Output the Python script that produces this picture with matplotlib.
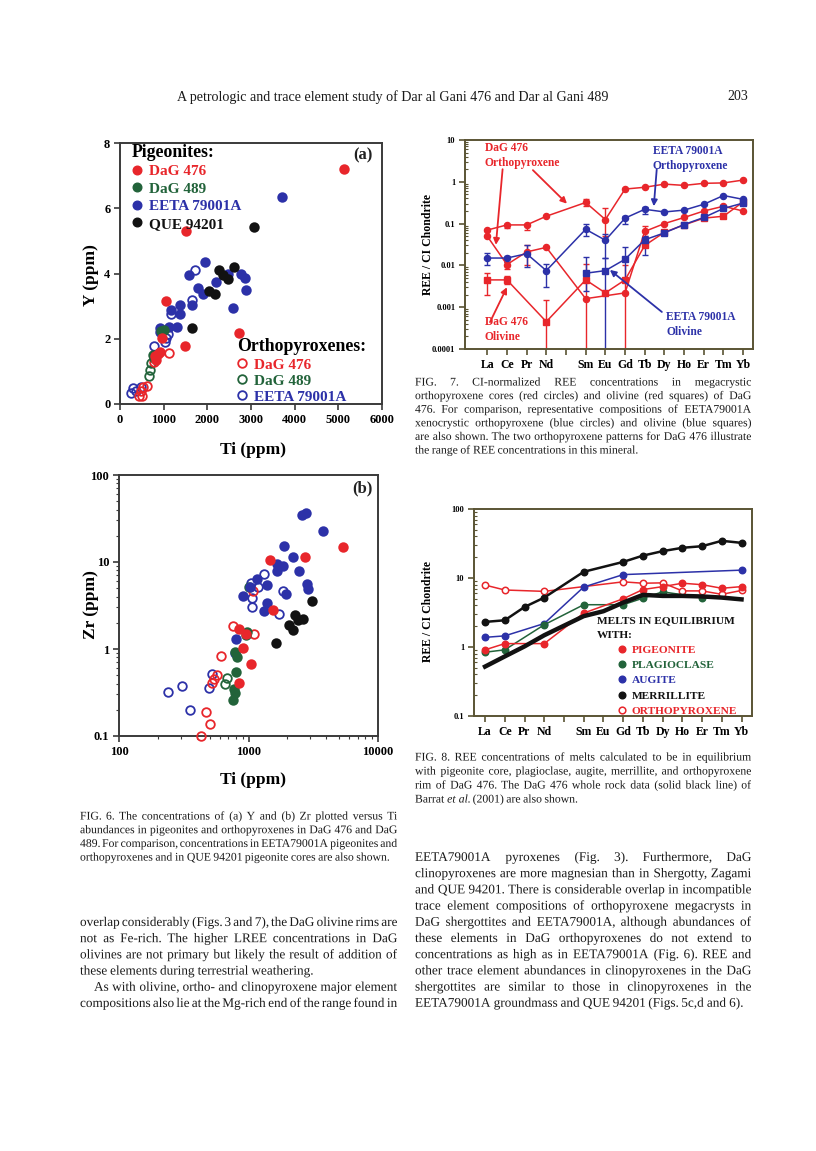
import numpy as np
import matplotlib
matplotlib.use('Agg')
import matplotlib.pyplot as plt
from matplotlib import ticker
from matplotlib.lines import Line2D
from matplotlib.textpath import TextPath
from matplotlib.patches import PathPatch
from matplotlib.font_manager import FontProperties
from matplotlib.transforms import Affine2D

plt.rcParams['font.family'] = ['Liberation Serif', 'DejaVu Serif']

# ---------------- data : Fig. 6a  (Y vs Ti) ----------------
pig476_ti = [5140, 1510, 1060, 2720, 1480, 970, 910, 860, 810, 830]
pig476_y = [7.21, 5.31, 3.17, 2.17, 1.79, 2.03, 1.60, 1.52, 1.46, 1.35]
pig489_ti = [930, 1010, 760, 780]
pig489_y = [2.24, 2.27, 1.50, 1.42]
pigeeta_ti = [3710, 1950, 1580, 2760, 2870, 2890, 2590, 2190, 1790, 1900,
              1650, 1380, 1175, 1370, 1310, 1120, 910, 920, 2470]
pigeeta_y = [6.33, 4.35, 3.94, 3.98, 3.85, 3.50, 2.95, 3.75, 3.55, 3.36,
             3.04, 3.02, 2.88, 2.75, 2.37, 2.37, 2.34, 2.20, 4.00]
pigque_ti = [3080, 2260, 2610, 2370, 2470, 2030, 2170, 1650]
pigque_y = [5.41, 4.11, 4.21, 3.96, 3.83, 3.47, 3.36, 2.34]
opx476_ti = [1115, 780, 625, 530, 475, 430, 505]
opx476_y = [1.55, 1.30, 0.56, 0.53, 0.39, 0.26, 0.26]
opx489_ti = [680, 660, 720]
opx489_y = [1.04, 0.86, 1.25]
opxeeta_ti = [1725, 1650, 1160, 1045, 1020, 780, 245, 300, 375, 490, 1100]
opxeeta_y = [4.11, 3.20, 2.75, 2.03, 1.89, 1.79, 0.33, 0.49, 0.39, 0.53, 2.15]

# ---------------- data : Fig. 6b  (Zr vs Ti) ----------------
pig476_zti = [5330, 2740, 1470, 1540, 850, 955, 910, 1050, 845]
pig476_zr = [14.7, 11.5, 10.5, 2.8, 1.72, 1.50, 1.03, 0.68, 0.41]
pig489_zti = [970, 950, 785, 810, 795, 775, 785, 755]
pig489_zr = [1.57, 1.45, 0.93, 0.81, 0.55, 0.35, 0.31, 0.26]
pigeeta_zti = [2580, 2790, 3750, 1880, 2200, 1650, 1840, 1660, 2460, 1160,
               1380, 1025, 2820, 2880, 1950, 910, 1400, 1320, 800, 790]
pigeeta_zr = [34.7, 36.9, 22.7, 15.2, 11.3, 9.4, 9.06, 7.94, 7.94, 6.3,
              5.5, 5.2, 5.66, 4.83, 4.24, 4.05, 3.4, 2.72, 1.32, 0.9]
pigque_zti = [3120, 2280, 2655, 2430, 2070, 2200, 1630]
pigque_zr = [3.57, 2.45, 2.19, 2.15, 1.91, 1.64, 1.16]
opx476_zti = [1077, 762, 1108, 612, 574, 527, 540, 469, 503, 428]
opx476_zr = [4.6, 1.83, 1.48, 0.83, 0.50, 0.41, 0.45, 0.19, 0.139, 0.10]
opx489_zti = [1014, 658, 686]
opx489_zr = [5.19, 0.40, 0.47]
opxeeta_zti = [1040, 1327, 1190, 1059, 1059, 1863, 1733, 527, 497, 304, 239, 352]
opxeeta_zr = [5.77, 7.24, 5.1, 3.87, 3.05, 4.67, 2.51, 0.51, 0.36, 0.38, 0.32, 0.20]

# ---------------- data : Fig. 7  (REE / CI) ----------------
REE = ['La', 'Ce', 'Pr', 'Nd', 'Pm', 'Sm', 'Eu', 'Gd', 'Tb', 'Dy', 'Ho', 'Er', 'Tm', 'Yb']
opx_hi_el = ['La', 'Ce', 'Pr', 'Nd', 'Sm', 'Eu', 'Gd', 'Tb', 'Dy', 'Ho', 'Er', 'Tm', 'Yb']
opx_hi = [0.070, 0.093, 0.093, 0.15, 0.32, 0.125, 0.67, 0.74, 0.88, 0.82, 0.92, 0.94, 1.1]
opx_lo_el = ['La', 'Ce', 'Pr', 'Nd', 'Sm', 'Gd', 'Tb', 'Dy', 'Ho', 'Er', 'Tm', 'Yb']
opx_lo = [0.050, 0.0105, 0.021, 0.027, 0.0016, 0.0022, 0.065, 0.10, 0.14, 0.20, 0.26, 0.20]
ol476_el = ['La', 'Ce', 'Nd', 'Sm', 'Eu', 'Gd', 'Tb', 'Dy', 'Ho', 'Er', 'Tm', 'Yb']
ol476 = [0.0045, 0.0045, 0.00045, 0.0045, 0.0022, 0.0045, 0.030, 0.062, 0.093, 0.135, 0.15, 0.33]
opxeeta_el = ['La', 'Ce', 'Pr', 'Nd', 'Sm', 'Eu', 'Gd', 'Tb', 'Dy', 'Ho', 'Er', 'Tm', 'Yb']
opxeeta = [0.015, 0.015, 0.019, 0.0075, 0.073, 0.040, 0.135, 0.22, 0.19, 0.21, 0.29, 0.47, 0.38]
oleeta_el = ['Sm', 'Eu', 'Gd', 'Tb', 'Dy', 'Ho', 'Er', 'Tm', 'Yb']
oleeta = [0.0065, 0.0075, 0.014, 0.041, 0.060, 0.095, 0.14, 0.23, 0.31]

# error bars (element, low, high)
opx_hi_err = (['Ce', 'Pr', 'Sm', 'Eu'], [0.08, 0.072, 0.26, 0.05], [0.10, 0.10, 0.38, 0.23])
opx_lo_err = (['Ce', 'Pr', 'Tb'], [0.008, 0.01, 0.05], [0.012, 0.03, 0.09])
ol476_err = (['La', 'Ce', 'Nd', 'Sm', 'Gd'], [0.002, 0.0035, 1e-5, 1e-5, 1e-5],
             [0.0065, 0.0055, 0.0015, 0.011, 0.01])
opxeeta_err = (['La', 'Ce', 'Pr', 'Nd', 'Sm', 'Eu', 'Gd', 'Tb'],
               [0.010, 0.012, 0.009, 0.003, 0.05, 0.015, 0.10, 0.17],
               [0.020, 0.017, 0.030, 0.011, 0.10, 0.055, 0.15, 0.25])
oleeta_err = (['Sm', 'Eu', 'Gd', 'Tb'], [0.0025, 1e-5, 0.005, 0.018], [0.016, 0.015, 0.028, 0.05])

# ---------------- data : Fig. 8  (melts) ----------------
pig_el = ['La', 'Ce', 'Nd', 'Sm', 'Gd', 'Tb', 'Dy', 'Ho', 'Er', 'Tm', 'Yb']
pig_melt = [0.91, 1.12, 1.12, 3.1, 5.0, 6.8, 7.5, 8.4, 8.0, 7.1, 7.5]
plag_el = ['La', 'Ce', 'Nd', 'Sm', 'Gd', 'Tb', 'Dy', 'Er']
plag_melt = [0.84, 0.91, 2.1, 4.1, 4.1, 5.1, 6.3, 5.2]
aug_el = ['La', 'Ce', 'Nd', 'Sm', 'Gd', 'Yb']
aug_melt = [1.38, 1.45, 2.19, 7.4, 11.2, 13.0]
merr_el = ['La', 'Ce', 'Pr', 'Nd', 'Sm', 'Gd', 'Tb', 'Dy', 'Ho', 'Er', 'Tm', 'Yb']
merr_melt = [2.31, 2.44, 3.8, 5.2, 12.3, 17.1, 21.1, 24.5, 27.4, 28.9, 34.6, 32.3]
opx_el = ['La', 'Ce', 'Nd', 'Gd', 'Tb', 'Dy', 'Ho', 'Er', 'Tm', 'Yb']
opx_melt = [7.9, 6.7, 6.4, 8.8, 8.4, 8.5, 6.5, 6.5, 5.8, 6.6]
wr_el = ['La', 'Ce', 'Pr', 'Nd', 'Sm', 'Eu', 'Gd', 'Tb', 'Dy', 'Ho', 'Er', 'Tm', 'Yb']
wr = [0.52, 0.73, 1.02, 1.48, 2.8, 3.3, 4.4, 5.7, 5.5, 5.5, 5.4, 5.2, 4.9]

# ---------------- page text ----------------
header = 'A petrologic and trace element study of Dar al Gani 476 and Dar al Gani 489'
cap6 = ['FIG. 6.  The concentrations of (a) Y and (b) Zr plotted versus Ti',
        'abundances in pigeonites and orthopyroxenes in DaG 476 and DaG',
        '489.  For comparison, concentrations in EETA79001A pigeonites and',
        'orthopyroxenes and in QUE 94201 pigeonite cores are also shown.']
cap7 = ['FIG. 7.  CI-normalized REE concentrations in megacrystic',
        'orthopyroxene cores (red circles) and olivine (red squares) of DaG',
        '476.  For comparison, representative compositions of EETA79001A',
        'xenocrystic orthopyroxene (blue circles) and olivine (blue squares)',
        'are also shown.  The two orthopyroxene patterns for DaG 476 illustrate',
        'the range of REE concentrations in this mineral.']
cap8 = ['FIG. 8.  REE concentrations of melts calculated to be in equilibrium',
        'with pigeonite core, plagioclase, augite, merrillite, and orthopyroxene',
        'rim of DaG 476.  The DaG 476 whole rock data (solid black line) of',
        'Barrat _et _al. (2001) are also shown.']
body_left = ['overlap considerably (Figs. 3 and 7), the DaG olivine rims are',
             'not as Fe-rich.  The higher LREE concentrations in DaG',
             'olivines are not primary but likely the result of addition of',
             'these elements during terrestrial weathering.',
             'As with olivine, ortho- and clinopyroxene major element',
             'compositions also lie at the Mg-rich end of the range found in']
body_right = ['EETA79001A pyroxenes (Fig. 3).  Furthermore, DaG',
              'clinopyroxenes are more magnesian than in Shergotty, Zagami',
              'and QUE 94201.  There is considerable overlap in incompatible',
              'trace element compositions of orthopyroxene megacrysts in',
              'DaG shergottites and EETA79001A, although abundances of',
              'these elements in DaG orthopyroxenes do not extend to',
              'concentrations as high as in EETA79001A (Fig. 6).  REE and',
              'other trace element abundances in clinopyroxenes in the DaG',
              'shergottites are similar to those in clinopyroxenes in the',
              'EETA79001A groundmass and QUE 94201 (Figs. 5c,d and 6).']

RED = '#e8262b'
GREEN = '#22633a'
BLUE = '#2c31a8'
BLACK = '#121212'
FRAME = '#3a3a3a'
FRAME2 = '#5a5434'
BOLD = dict(family='Liberation Serif', weight='bold')
FP_ROMAN = FontProperties(family='Liberation Serif')
FP_ITALIC = FontProperties(family='Liberation Serif', style='italic')

W, H = 816, 1151
fig = plt.figure(figsize=(W / 100, H / 100), dpi=100)
fig.patch.set_facecolor('white')


def px_axes(l, t, r, b):
    return fig.add_axes([l / W, 1 - b / H, (r - l) / W, (b - t) / H])


def style_axes(ax, frame, lsize):
    for s in ax.spines.values():
        s.set_color(frame)
        s.set_linewidth(1.4)
    ax.tick_params(which='major', direction='out', length=4, width=1.2, color=frame,
                   labelsize=lsize, pad=3)
    ax.tick_params(which='minor', direction='out', length=2.5, width=0.8, color=frame)
    for lab in ax.get_xticklabels() + ax.get_yticklabels():
        lab.set_fontweight('bold')
        lab.set_family('Liberation Serif')


# page text is drawn from glyph outlines so every word sits on one baseline
def word_path(w, px):
    it = w.startswith('_')
    return TextPath((0, 0), w.strip('_'), size=px, prop=FP_ITALIC if it else FP_ROMAN)


def word_width(path):
    return path.get_extents().x1 if len(path.vertices) else 0.0


MIN_GAP = 0.2  # em


def fit_size(blocks, ref=10.0):
    best = 99.0
    px = ref * 100 / 72
    for x0, x1, lines, last_idx, indent_idx in blocks:
        for i, ln in enumerate(lines):
            if i in last_idx:
                continue
            words = ln.split()
            need = sum(word_width(word_path(w, px)) for w in words) + MIN_GAP * px * (len(words) - 1)
            avail = x1 - x0 - (14 if i in indent_idx else 0)
            best = min(best, ref * avail / need)
    return best


def text_line(x0, x1, y, line, size, justify=True, indent=0.0):
    px = size * 100 / 72
    paths = [word_path(w, px) for w in line.split()]
    widths = [word_width(p) for p in paths]
    if justify and len(paths) > 1:
        gap = (x1 - x0 - indent - sum(widths)) / (len(paths) - 1)
    else:
        gap = 0.25 * px
    base = H - (y + 0.3 * px)
    x = x0 + indent
    for p, w in zip(paths, widths):
        patch = PathPatch(p, facecolor='#1a1a1a', edgecolor='none',
                          transform=Affine2D().translate(x, base))
        fig.add_artist(patch)
        patch.set_transform(Affine2D().translate(x, base))
        x += w + gap


def para(x0, x1, y0, dy, lines, size, last_idx=(), indent_idx=()):
    for i, ln in enumerate(lines):
        text_line(x0, x1, y0 + i * dy, ln, size,
                  justify=(i not in last_idx),
                  indent=(14 if i in indent_idx else 0))


def scatter_sets(ax, sets):
    for xs, ys, c, filled in sets:
        ax.plot(xs, ys, 'o', ms=6.2, mec=c, mew=1.3,
                mfc=c if filled else 'none', clip_on=False, zorder=3)


# ================= Fig. 6a =================
ax = px_axes(120, 143, 382, 404)
scatter_sets(ax, [
    (opxeeta_ti, opxeeta_y, BLUE, False),
    (opx489_ti, opx489_y, GREEN, False),
    (opx476_ti, opx476_y, RED, False),
    (pigeeta_ti, pigeeta_y, BLUE, True),
    (pigque_ti, pigque_y, BLACK, True),
    (pig489_ti, pig489_y, GREEN, True),
    (pig476_ti, pig476_y, RED, True),
])
ax.set_xlim(0, 6000)
ax.set_ylim(0, 8)
ax.set_xticks(range(0, 6001, 1000))
ax.set_yticks([0, 2, 4, 6, 8])
style_axes(ax, FRAME, 9)
ax.text(0.927, 0.954, '(a)', transform=ax.transAxes, ha='center', va='center',
        fontsize=12, color='#222222', **BOLD)

h_pig = [Line2D([], [], ls='', marker='o', ms=6.2, color=c) for c in (RED, GREEN, BLUE, BLACK)]
leg1 = ax.legend(h_pig, ['DaG 476', 'DaG 489', 'EETA 79001A', 'QUE 94201'],
                 title='Pigeonites:', loc='upper left', bbox_to_anchor=(0.035, 1.009),
                 frameon=False, prop=dict(size=11, **BOLD),
                 title_fontproperties=dict(size=12.8, **BOLD),
                 labelcolor=[RED, GREEN, BLUE, BLACK], handlelength=0.6,
                 handletextpad=0.5, labelspacing=0.25, borderpad=0.2,
                 borderaxespad=0, alignment='left')
ax.add_artist(leg1)
h_opx = [Line2D([], [], ls='', marker='o', ms=6.2, mfc='none', mew=1.3, color=c)
         for c in (RED, GREEN, BLUE)]
ax.legend(h_opx, ['DaG 476', 'DaG 489', 'EETA 79001A'], title='Orthopyroxenes:',
          loc='upper left', bbox_to_anchor=(0.435, 0.263), frameon=False,
          prop=dict(size=11, **BOLD), title_fontproperties=dict(size=12.8, **BOLD),
          labelcolor=[RED, GREEN, BLUE], handlelength=0.6, handletextpad=0.5,
          labelspacing=0.16, borderpad=0.2, borderaxespad=0, alignment='left')
fig.text(253 / W, 1 - 450 / H, 'Ti (ppm)', ha='center', va='center', fontsize=12.5, **BOLD)
fig.text(91 / W, 1 - 275 / H, 'Y (ppm)', ha='center', va='center', rotation=90,
         fontsize=12.5, **BOLD)

# ================= Fig. 6b =================
ax = px_axes(119, 475, 378, 736)
scatter_sets(ax, [
    (opxeeta_zti, opxeeta_zr, BLUE, False),
    (opx489_zti, opx489_zr, GREEN, False),
    (opx476_zti, opx476_zr, RED, False),
    (pigeeta_zti, pigeeta_zr, BLUE, True),
    (pigque_zti, pigque_zr, BLACK, True),
    (pig489_zti, pig489_zr, GREEN, True),
    (pig476_zti, pig476_zr, RED, True),
])
ax.set_xscale('log')
ax.set_yscale('log')
ax.set_xlim(100, 10000)
ax.set_ylim(0.1, 100)
fmt = ticker.FuncFormatter(lambda v, p: f'{v:g}')
ax.xaxis.set_major_formatter(fmt)
ax.yaxis.set_major_formatter(fmt)
ax.xaxis.set_minor_formatter(ticker.NullFormatter())
ax.yaxis.set_minor_formatter(ticker.NullFormatter())
style_axes(ax, FRAME, 9)
ax.text(0.938, 0.95, '(b)', transform=ax.transAxes, ha='center', va='center',
        fontsize=12, color='#222222', **BOLD)
fig.text(253 / W, 1 - 780 / H, 'Ti (ppm)', ha='center', va='center', fontsize=12.5, **BOLD)
fig.text(91 / W, 1 - 605 / H, 'Zr (ppm)', ha='center', va='center', rotation=90,
         fontsize=12.5, **BOLD)

pos = {e: i for i, e in enumerate(REE)}


def ree_axes(ax, ylo, yhi, xlo, xhi, label_y):
    ax.set_yscale('log')
    ax.set_ylim(ylo, yhi)
    ax.set_xlim(xlo, xhi)
    ax.set_xticks(range(len(REE)))
    ax.set_xticklabels(['' if e == 'Pm' else e for e in REE])
    ax.yaxis.set_major_formatter(ticker.FuncFormatter(lambda v, p: f'{v:g}'))
    ax.yaxis.set_minor_formatter(ticker.NullFormatter())
    style_axes(ax, FRAME2, 8.5)
    ax.tick_params(axis='y', which='major', labelsize=6)
    ax.tick_params(axis='y', which='minor', direction='in', length=2.5)
    fig.text(428 / W, 1 - label_y / H, 'REE / CI Chondrite', rotation=90,
             ha='center', va='center', fontsize=8.5, **BOLD)


# ================= Fig. 7 =================
ax = px_axes(465, 140, 753, 349)
series7 = [
    (opx_hi_el, opx_hi, opx_hi_err, RED, 'o'),
    (opx_lo_el, opx_lo, opx_lo_err, RED, 'o'),
    (ol476_el, ol476, ol476_err, RED, 's'),
    (opxeeta_el, opxeeta, opxeeta_err, BLUE, 'o'),
    (oleeta_el, oleeta, oleeta_err, BLUE, 's'),
]
for els, vals, err, c, m in series7:
    ax.plot([pos[e] for e in els], vals, '-', marker=m, color=c, ms=4.4, lw=1.1, zorder=3)
    ee, lo, hi = err
    yv = [vals[els.index(e)] for e in ee]
    ax.errorbar([pos[e] for e in ee], yv,
                yerr=[np.array(yv) - np.array(lo), np.array(hi) - np.array(yv)],
                fmt='none', ecolor=c, elinewidth=1.0, capsize=2.5, capthick=1.0, zorder=2)
ree_axes(ax, 1e-4, 10, -1.13, 13.5, 245)

lab7 = dict(fontsize=8.3, linespacing=1.35, va='top', ha='left', **BOLD)
ax.text(-0.12, 9.0, 'DaG 476\nOrthopyroxene', color=RED, **lab7)
ax.text(-0.12, 6.2e-4, 'DaG 476\nOlivine', color=RED, **lab7)
ax.text(8.4, 7.5, 'EETA 79001A\nOrthopyroxene', color=BLUE, **lab7)
ax.text(9.1, 8.0e-4, 'EETA 79001A\nOlivine', color=BLUE, **lab7)
arr = dict(arrowstyle='-|>', lw=1.3, mutation_scale=9, shrinkA=0, shrinkB=0)
ax.annotate('', xy=(0.44, 0.031), xytext=(0.78, 2.0), arrowprops=dict(color=RED, **arr))
ax.annotate('', xy=(4.05, 0.30), xytext=(2.32, 1.9), arrowprops=dict(color=RED, **arr))
ax.annotate('', xy=(1.0, 0.003), xytext=(0.14, 4.4e-4), arrowprops=dict(color=RED, **arr))
ax.annotate('', xy=(8.46, 0.26), xytext=(8.61, 2.0), arrowprops=dict(color=BLUE, **arr))
ax.annotate('', xy=(6.23, 0.0078), xytext=(8.87, 7.7e-4), arrowprops=dict(color=BLUE, **arr))

# ================= Fig. 8 =================
ax = px_axes(474, 509, 752, 716)
series8 = [
    (opx_el, opx_melt, RED, False, 1.1),
    (aug_el, aug_melt, BLUE, True, 1.1),
    (plag_el, plag_melt, GREEN, True, 1.1),
    (pig_el, pig_melt, RED, True, 1.1),
    (merr_el, merr_melt, BLACK, True, 1.8),
]
for els, vals, c, filled, lw in series8:
    ax.plot([pos[e] for e in els], vals, '-o', color=c, ms=4.6, lw=lw,
            mfc=c if filled else 'white', mew=1.1, zorder=3)
ax.plot([pos[e] for e in wr_el], wr, '-', color=BLACK, lw=3.2, zorder=4)
ree_axes(ax, 0.1, 100, -0.56, 13.53, 612)

ax.text(0.442, 0.48, 'MELTS IN EQUILIBRIUM\nWITH:', transform=ax.transAxes,
        fontsize=8.2, linespacing=1.75, va='top', ha='left', color=BLACK, **BOLD)
h8 = [Line2D([], [], ls='', marker='o', ms=4.8, color=c, mfc=c) for c in (RED, GREEN, BLUE, BLACK)]
h8.append(Line2D([], [], ls='', marker='o', ms=4.8, color=RED, mfc='white', mew=1.1))
ax.legend(h8, ['PIGEONITE', 'PLAGIOCLASE', 'AUGITE', 'MERRILLITE', 'ORTHOPYROXENE'],
          loc='upper left', bbox_to_anchor=(0.52, 0.345), frameon=False,
          prop=dict(size=8.2, **BOLD), labelcolor=[RED, GREEN, BLUE, BLACK, RED],
          handlelength=0.6, handletextpad=0.55, labelspacing=0.47, borderpad=0,
          borderaxespad=0)

# ================= page text =================
fig.text(393 / W, 1 - 97 / H, header, ha='center', va='center', fontsize=10.1,
         family='Liberation Serif', color='#1a1a1a')
fig.text(738 / W, 1 - 97 / H, '203', ha='center', va='center', fontsize=10.1,
         family='Liberation Serif', color='#1a1a1a')

cap_size = fit_size([(80, 397, cap6, (3,), ()), (415, 751, cap7, (5,), ()),
                     (415, 751, cap8, (3,), ())])
body_size = fit_size([(80, 397, body_left, (3,), (4,)), (415, 751, body_right, (9,), ())])

para(80, 397, 816, 13.7, cap6, cap_size, last_idx=(3,))
para(415, 751, 382, 13.6, cap7, cap_size, last_idx=(5,))
para(415, 751, 757, 14.0, cap8, cap_size, last_idx=(3,))
para(80, 397, 922, 16.2, body_left, body_size, last_idx=(3,), indent_idx=(4,))
para(415, 751, 857, 16.2, body_right, body_size, last_idx=(9,))

fig.savefig('out.png', dpi=100, facecolor='white')
